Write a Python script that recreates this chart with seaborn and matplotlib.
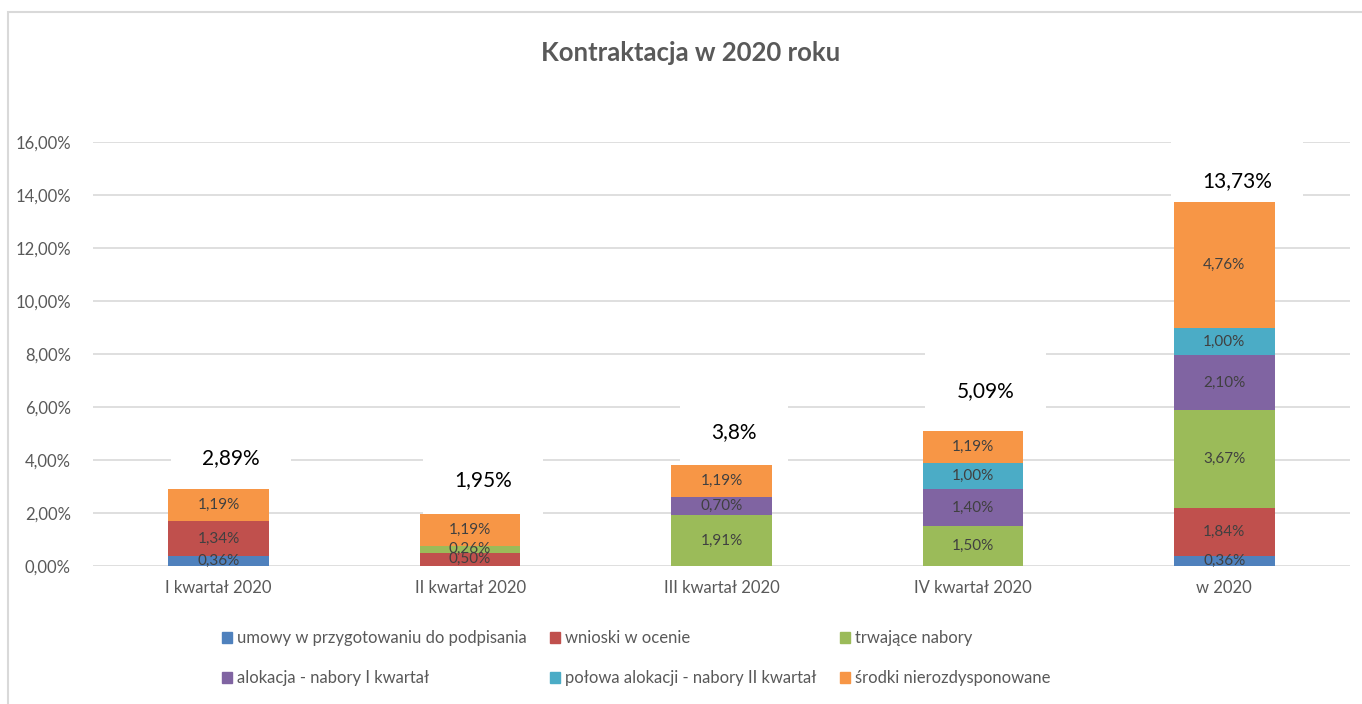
import numpy as np
import pandas as pd
import matplotlib
matplotlib.use('Agg')
import matplotlib.pyplot as plt
import matplotlib.patches as mpatches
import seaborn as sns

# Data (values in %)
categories = ['I kwartał 2020', 'II kwartał 2020', 'III kwartał 2020', 'IV kwartał 2020', 'w 2020']
series_names = ['umowy w przygotowaniu do podpisania', 'wnioski w ocenie', 'trwające nabory',
                'alokacja - nabory I kwartał', 'połowa alokacji - nabory II kwartał',
                'środki nierozdysponowane']
umowy = [0.36, 0.00, 0.00, 0.00, 0.36]
wnioski = [1.34, 0.50, 0.00, 0.00, 1.84]
trwajace = [0.00, 0.26, 1.91, 1.50, 3.67]
alokacja = [0.00, 0.00, 0.70, 1.40, 2.10]
polowa = [0.00, 0.00, 0.00, 1.00, 1.00]
srodki = [1.19, 1.19, 1.19, 1.19, 4.76]
total_labels = ['2,89%', '1,95%', '3,8%', '5,09%', '13,73%']

colors = ['#4F81BD', '#C0504D', '#9BBB59', '#8064A2', '#4BACC6', '#F79646']
# how far above each bar the total label sits (manually placed in original)
label_offsets = [1.19, 1.30, 1.26, 1.50, 0.78]

sns.set_theme(style='white')
plt.rcParams['font.family'] = ['Lato', 'DejaVu Sans']

fig = plt.figure(figsize=(13.62, 7.04), dpi=100)
ax = fig.add_axes([93 / 1362, 1 - 566 / 704, (1350 - 93) / 1362, (566 - 142) / 704])

all_series = [umowy, wnioski, trwajace, alokacja, polowa, srodki]
bottom = np.zeros(len(categories))
for name, vals, col in zip(series_names, all_series, colors):
    df = pd.DataFrame({'kategoria': categories, 'wartosc': vals})
    sns.barplot(data=df, x='kategoria', y='wartosc', order=categories, color=col,
                saturation=1, width=0.4, errorbar=None, bottom=bottom.copy(), zorder=2,
                linewidth=0, ax=ax)
    labels = [f'{v:.2f}%'.replace('.', ',') if v > 0 else '' for v in vals]
    ax.bar_label(ax.containers[-1], labels=labels, label_type='center',
                 fontsize=11, color='#404040', zorder=3)
    bottom += np.array(vals)

# totals with white boxes (they cut the gridlines like in the original)
for i, (tot, lab, off) in enumerate(zip(bottom, total_labels, label_offsets)):
    ax.text(i + 0.05, tot + off, lab, ha='center', va='center', fontsize=15,
            color='black', zorder=1.5,
            bbox=dict(boxstyle='square,pad=1.5', facecolor='white', edgecolor='none'))

ax.set_ylim(0, 16)
ax.set_xlim(-0.5, len(categories) - 0.5)
ax.set_yticks(np.arange(0, 16.01, 2))
ax.set_yticklabels([f'{v:.2f}%'.replace('.', ',') for v in np.arange(0, 16.01, 2)])
ax.yaxis.grid(True, color='#D9D9D9', linewidth=1.2, zorder=0)
ax.set_axisbelow(True)
ax.tick_params(axis='both', length=0, labelsize=12, colors='#595959')
ax.tick_params(axis='y', pad=16)
ax.tick_params(axis='x', pad=10)
ax.set_xlabel('')
ax.set_ylabel('')
for s in ax.spines.values():
    s.set_visible(False)

fig.text(691 / 1362, 1 - 53 / 704, 'Kontraktacja w 2020 roku', ha='center', va='center',
         fontsize=18.5, fontweight='bold', color='#595959')

# legend in Excel row order
handles = [mpatches.Patch(color=c) for c in colors]
order = [0, 3, 1, 4, 2, 5]
fig.legend([handles[k] for k in order], [series_names[k] for k in order], ncol=3,
           loc='upper left', bbox_to_anchor=(214 / 1362, 1 - 622 / 704), frameon=False,
           fontsize=12, labelcolor='#595959', handlelength=0.6, handleheight=0.6,
           handletextpad=0.3, labelspacing=1.45, columnspacing=1.4, borderpad=0)

# outer chart frame
fig.patches.append(mpatches.Rectangle((8 / 1362, -0.05), 1.1, 1 - 12 / 704 + 0.05,
                                      transform=fig.transFigure, fill=False,
                                      edgecolor='#D9D9D9', linewidth=1.5))

fig.savefig('out.png', dpi=100, facecolor='white')
